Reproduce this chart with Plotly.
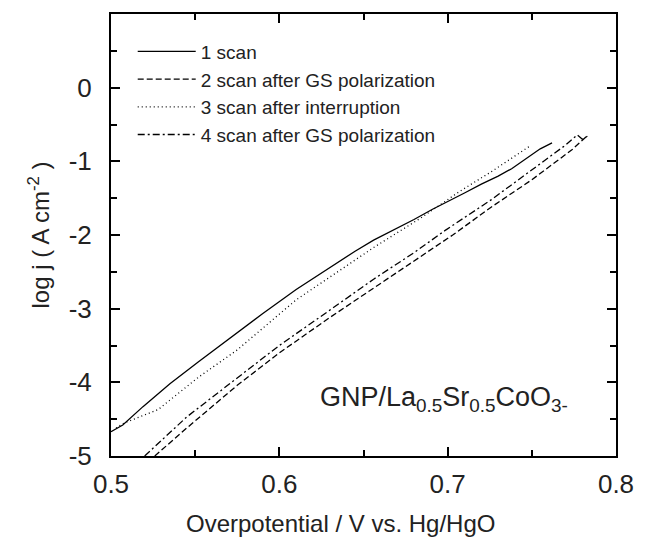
import plotly.graph_objects as go

# 1 scan (solid)
x1 = [0.500, 0.507, 0.519, 0.535, 0.552, 0.575, 0.590, 0.610, 0.630, 0.645, 0.656, 0.680, 0.691, 0.700, 0.710, 0.720, 0.730, 0.738, 0.748, 0.755, 0.762]
y1 = [-4.67, -4.58, -4.33, -4.02, -3.72, -3.32, -3.07, -2.74, -2.44, -2.22, -2.07, -1.79, -1.65, -1.55, -1.43, -1.31, -1.20, -1.10, -0.94, -0.83, -0.75]

# 2 scan after GS polarization (dashed)
x2 = [0.526, 0.545, 0.575, 0.600, 0.630, 0.656, 0.672, 0.703, 0.726, 0.750, 0.774, 0.780, 0.783]
y2 = [-5.00, -4.62, -4.04, -3.60, -3.12, -2.72, -2.47, -2.00, -1.62, -1.25, -0.84, -0.72, -0.65]

# 3 scan after interruption (dotted)
x3 = [0.503, 0.508, 0.518, 0.528, 0.540, 0.552, 0.575, 0.610, 0.645, 0.656, 0.684, 0.707, 0.726, 0.740, 0.749]
y3 = [-4.62, -4.55, -4.46, -4.37, -4.15, -3.93, -3.56, -2.88, -2.34, -2.17, -1.77, -1.41, -1.14, -0.93, -0.79]

# 4 scan after GS polarization (dash-dot)
x4 = [0.520, 0.545, 0.575, 0.600, 0.630, 0.656, 0.680, 0.699, 0.726, 0.750, 0.770, 0.777, 0.780, 0.783]
y4 = [-5.00, -4.47, -3.94, -3.50, -3.02, -2.60, -2.24, -1.93, -1.52, -1.12, -0.78, -0.64, -0.70, -0.66]

names = ["1 scan", "2 scan after GS polarization", "3 scan after interruption", "4 scan after GS polarization"]
dashes = ["solid", "6px,3px", "1px,3px", "7px,3px,2px,3px"]

x_ticks = [0.5, 0.6, 0.7, 0.8]
x_labels = ["0.5", "0.6", "0.7", "0.8"]
y_ticks = [-5, -4, -3, -2, -1, 0]
y_labels = ["-5", "-4", "-3", "-2", "-1", "0"]

FONT = "Liberation Sans, Arial"

fig = go.Figure()
for xs, ys, nm, ds in zip([x1, x2, x3, x4], [y1, y2, y3, y4], names, dashes):
    fig.add_trace(go.Scatter(x=xs, y=ys, mode="lines", name=nm,
                             line=dict(color="black", width=1.3, dash=ds)))

axis_common = dict(showline=True, linecolor="black", linewidth=2, mirror="allticks",
                   ticks="inside", ticklen=9, tickwidth=1.5, tickcolor="black",
                   showgrid=False, zeroline=False,
                   tickfont=dict(family=FONT, size=26, color="#222"))

fig.update_xaxes(range=[0.5, 0.8], tickvals=x_ticks, ticktext=x_labels,
                 ticklabelstandoff=4,
                 minor=dict(dtick=0.05, ticks="inside", ticklen=6, tickcolor="black", tickwidth=1.5),
                 **axis_common)
fig.update_yaxes(range=[-5, 1], tickvals=y_ticks, ticktext=y_labels,
                 ticklabelstandoff=12,
                 minor=dict(dtick=0.5, ticks="inside", ticklen=6, tickcolor="black", tickwidth=1.5),
                 title=dict(text="log j ( A cm<sup>-2</sup> )", font=dict(family=FONT, size=24, color="#222"), standoff=12),
                 **axis_common)

# x-axis title (placed slightly left of centre, as in the original)
fig.add_annotation(x=0.4535, y=-0.152, xref="paper", yref="paper", showarrow=False,
                   text="Overpotential / V vs. Hg/HgO", xanchor="center", yanchor="middle",
                   font=dict(family=FONT, size=24, color="#222"))

fig.add_annotation(x=0.623, y=-4.22, xref="x", yref="y", showarrow=False,
                   text="GNP/La<sub>0.5</sub>Sr<sub>0.5</sub>CoO<sub>3-</sub>",
                   xanchor="left", yanchor="middle",
                   font=dict(family=FONT, size=27, color="#222"))

fig.update_layout(width=646, height=537, margin=dict(l=111, r=19, t=13, b=81),
                  paper_bgcolor="white", plot_bgcolor="white",
                  legend=dict(x=0.043, y=0.958, xanchor="left", yanchor="top",
                              bgcolor="rgba(0,0,0,0)", tracegroupgap=0,
                              font=dict(family=FONT, size=19, color="#222"),
                              itemwidth=58))

fig.write_html("out.html")
